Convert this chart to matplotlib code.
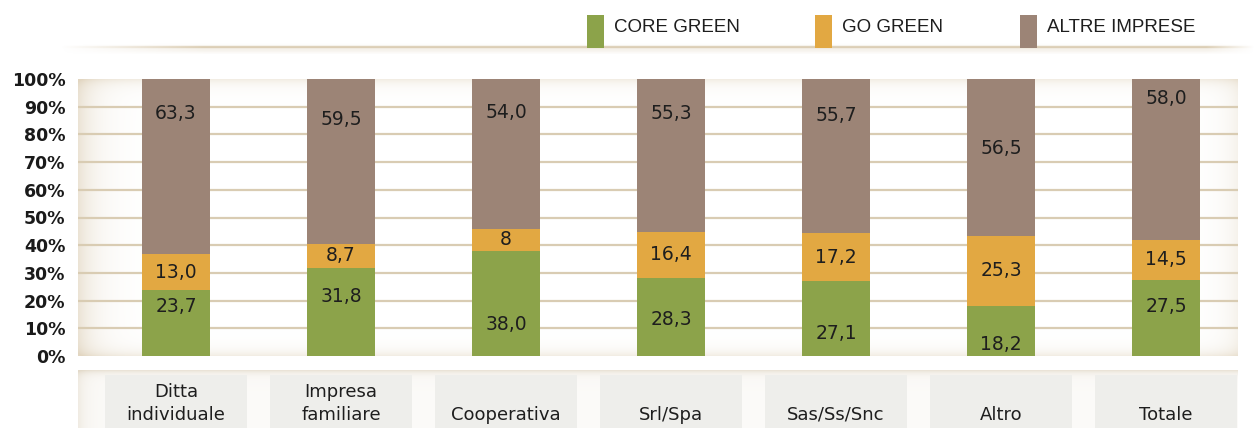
import numpy as np
import matplotlib
matplotlib.use("Agg")
import matplotlib.pyplot as plt
from matplotlib.patches import Rectangle
from matplotlib import font_manager

# ---------------- data ----------------
categories = ["Ditta\nindividuale", "Impresa\nfamiliare", "Cooperativa", "Srl/Spa",
              "Sas/Ss/Snc", "Altro", "Totale"]
series_names = ["CORE GREEN", "GO GREEN", "ALTRE IMPRESE"]
core_green = [23.7, 31.8, 38.0, 28.3, 27.1, 18.2, 27.5]
go_green = [13.0, 8.7, 8.0, 16.4, 17.2, 25.3, 14.5]
altre_imprese = [63.3, 59.5, 54.0, 55.3, 55.7, 56.5, 58.0]
core_labels = ["23,7", "31,8", "38,0", "28,3", "27,1", "18,2", "27,5"]
go_labels = ["13,0", "8,7", "8", "16,4", "17,2", "25,3", "14,5"]
altre_labels = ["63,3", "59,5", "54,0", "55,3", "55,7", "56,5", "58,0"]
yticks = [0, 10, 20, 30, 40, 50, 60, 70, 80, 90, 100]
ytick_labels = [f"{v}%" for v in yticks]

# label placement (style, in % units)
core_label_y = [18, 21.5, 11.5, 13, 8.3, 4, 18]
altre_label_y = [87.5, 85.5, 88, 87.5, 87, 75, 93]

colors = ["#8ca34a", "#e2a842", "#9c8476"]
grid_col = "#d9ccb3"

available = {f.name for f in font_manager.fontManager.ttflist}
main_font = "DejaVu Sans"
narrow = "Liberation Sans Narrow" if "Liberation Sans Narrow" in available else "Liberation Sans"

W, H = 1255, 428
fig = plt.figure(figsize=(W / 100, H / 100), dpi=100)
fig.patch.set_facecolor("white")

def fx(px):
    return px / W

def fy(py):
    return (H - py) / H

# ---- top decorative line ----
lax = fig.add_axes([fx(60), fy(54), fx(1195), 14 / H])
cols = np.linspace(0, 1, 600)
alpha_h = np.clip(cols / 0.12, 0, 1) * np.clip((1 - cols) / 0.04, 0, 1)
rows = np.linspace(0, 1, 14)
prof = 0.75 * np.exp(-((rows - 0.5) / 0.09) ** 2) + 0.2 * np.exp(-((rows - 0.7) / 0.25) ** 2)
prof = np.clip(prof, 0, 1)
img = np.ones((14, 600, 4))
img[..., :3] = np.array([0.82, 0.75, 0.62])
img[..., 3] = prof[:, None] * alpha_h[None, :]
lax.imshow(img, aspect="auto", extent=[0, 1, 0, 1], interpolation="bilinear")
lax.set_axis_off()

# ---- main axes ----
x0, x1 = 78, 1238
y_top, y_bot = 79, 356
ax = fig.add_axes([fx(x0), fy(y_bot), fx(x1 - x0), (y_bot - y_top) / H])
ax.set_xlim(-0.594, 6.436)
ax.set_ylim(0, 100)

# background shading (plot area edges)
nx, ny = 1160, 277
xx = np.arange(nx)[None, :]
yy = np.arange(ny)[:, None]
shade = (0.55 * np.exp(-xx / 18.0) + 0.35 * np.exp(-yy / 6.0)
         + 0.35 * np.exp(-(ny - 1 - yy) / 6.0) + 0.25 * np.exp(-(nx - 1 - xx) / 14.0))
shade = np.clip(shade, 0, 0.8)
bg = np.ones((ny, nx, 4))
bg[..., :3] = np.array([0.86, 0.80, 0.70])
bg[..., 3] = shade
ax.imshow(bg, aspect="auto", extent=[-0.594, 6.436, 0, 100], origin="upper",
          zorder=0, interpolation="bilinear")

for v in yticks[1:-1]:
    ax.axhline(v, color=grid_col, lw=1.6, zorder=1)

x = np.arange(len(categories))
bw = 0.41
ax.bar(x, core_green, bw, color=colors[0], zorder=3, label=series_names[0])
ax.bar(x, go_green, bw, bottom=core_green, color=colors[1], zorder=3, label=series_names[1])
bottom3 = [c + g for c, g in zip(core_green, go_green)]
ax.bar(x, altre_imprese, bw, bottom=bottom3, color=colors[2], zorder=3, label=series_names[2])

tk = dict(ha="center", va="center", fontsize=13.5, color="#1e1e1e", family=main_font, zorder=4)
for i in range(len(categories)):
    ax.text(x[i], core_label_y[i], core_labels[i], **tk)
    ax.text(x[i], core_green[i] + go_green[i] / 2, go_labels[i], **tk)
    ax.text(x[i], altre_label_y[i], altre_labels[i], **tk)

ax.set_yticks(yticks)
ax.set_yticklabels(ytick_labels, fontsize=12.5, fontweight="bold", color="#1a1a1a",
                   family=main_font)
ax.tick_params(axis="y", length=0, pad=9)
ax.set_xticks([])
for s in ax.spines.values():
    s.set_visible(False)

# ---- category row ----
cax = fig.add_axes([fx(x0), 0, fx(x1 - x0), 58 / H])
cax.set_xlim(-0.594, 6.436)
cax.set_ylim(0, 1)
cb = np.ones((58, nx, 4))
cyy = np.arange(58)[:, None]
cxx = np.arange(nx)[None, :]
csh = 0.12 + 0.55 * np.exp(-cyy / 3.5) + 0.35 * np.exp(-cxx / 8.0)
cb[..., :3] = np.array([0.88, 0.84, 0.77])
cb[..., 3] = np.clip(csh, 0, 0.9)
cax.imshow(cb, aspect="auto", extent=[-0.594, 6.436, 0, 1], origin="upper",
           zorder=0, interpolation="bilinear")
for i in range(len(categories)):
    cax.add_patch(Rectangle((x[i] - 0.43, 0), 0.86, 0.92, facecolor="#eeeeeb",
                            edgecolor="none", zorder=1))
    cax.text(x[i], 0.075, categories[i], ha="center", va="bottom", fontsize=13,
             color="#1e1e1e", family=main_font, linespacing=1.35, zorder=2)
cax.set_axis_off()

# ---- legend ----
leg_patch_x = [587, 815, 1020]
for i, name in enumerate(series_names):
    px = leg_patch_x[i]
    fig.patches.append(Rectangle((fx(px), fy(48)), fx(17), 33 / H, facecolor=colors[i],
                                 edgecolor="none", transform=fig.transFigure, figure=fig))
    fig.text(fx(px + 27), fy(27), name, ha="left", va="center", fontsize=13.5,
             color="#1e1e1e", family=narrow)

fig.savefig("out.png", dpi=100, facecolor="white")
